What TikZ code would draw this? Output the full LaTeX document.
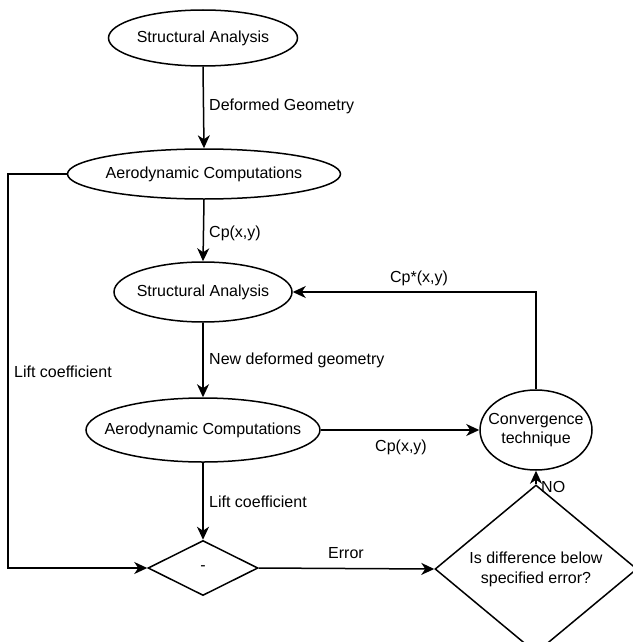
\documentclass[tikz,border=0pt]{standalone}
\usepackage{fontspec}
\setmainfont{Liberation Sans}
\usetikzlibrary{shapes.geometric,arrows.meta}

\tikzset{
  oval/.style={draw,ellipse,line width=1.5pt,inner xsep=-30pt,inner ysep=-5pt,align=center,font=\fontsize{16}{19}\selectfont},
  decide/.style={draw,diamond,line width=1.5pt,inner sep=0pt,align=center,font=\fontsize{16}{20}\selectfont},
  link/.style={line width=1.5pt,-{Stealth[length=13pt,width=12pt,inset=4pt]}},
  tag/.style={inner sep=0pt,font=\fontsize{16}{19}\selectfont}
}

\begin{document}
\begin{tikzpicture}[x=1pt,y=-1pt]
  \useasboundingbox (0,0) rectangle (632,642);

  % the chain in the middle
  \node[oval,minimum width=189pt,minimum height=56pt] (sa1) at (203,38) {Structural Analysis};
  \node[oval,minimum width=273pt,minimum height=50pt] (ac1) at (204,174) {Aerodynamic Computations};
  \node[oval,minimum width=178pt,minimum height=60pt] (sa2) at (203,292) {Structural Analysis};
  \node[oval,minimum width=234pt,minimum height=64pt] (ac2) at (203,430) {Aerodynamic Computations};
  \node[decide,minimum width=110pt,minimum height=55pt] (minus) at (203,568) {-};

  % the loop on the right
  \node[oval,minimum width=112pt,minimum height=80pt] (conv) at (536,430) {Convergence\\technique};
  \node[decide,minimum width=202pt,minimum height=137pt] (check) at (536,569) {Is difference below\\specified error?};

  \coordinate (leftTop) at (8,174);
  \coordinate (convUp) at (536,292);

  \draw[link] (sa1.south) -- (ac1.north);
  \draw[link] (ac1.south) -- (sa2.north);
  \draw[link] (sa2.south) -- (ac2.north);
  \draw[link] (ac2.south) -- (minus.north);
  \draw[link] (ac1.west) -- (leftTop) |- (minus.west);
  \draw[link] (minus.east) -- (check.west);
  \draw[link] (check.north) -- (conv.south);
  \draw[link] (ac2.east) -- (conv.west);
  \draw[link] (conv.north) -- (convUp) -- (sa2.east);

  % labels
  \node[tag,anchor=west] (lblDeformed) at (209,106) {Deformed Geometry};
  \node[tag,anchor=west] (lblCpTop) at (209,233) {Cp(x,y)};
  \node[tag,anchor=west] (lblNew) at (209,360) {New deformed geometry};
  \node[tag,anchor=west] (lblLiftLeft) at (14,372) {Lift coefficient};
  \node[tag,anchor=west] (lblLiftMid) at (209,502) {Lift coefficient};
  \node[tag] (lblError) at (346,553) {Error};
  \node[tag] (lblCpLow) at (401,447) {Cp(x,y)};
  \node[tag] (lblCpStar) at (419,278) {Cp*(x,y)};
  \node[tag,anchor=west] (lblNo) at (541,487) {NO};
\end{tikzpicture}
\end{document}
